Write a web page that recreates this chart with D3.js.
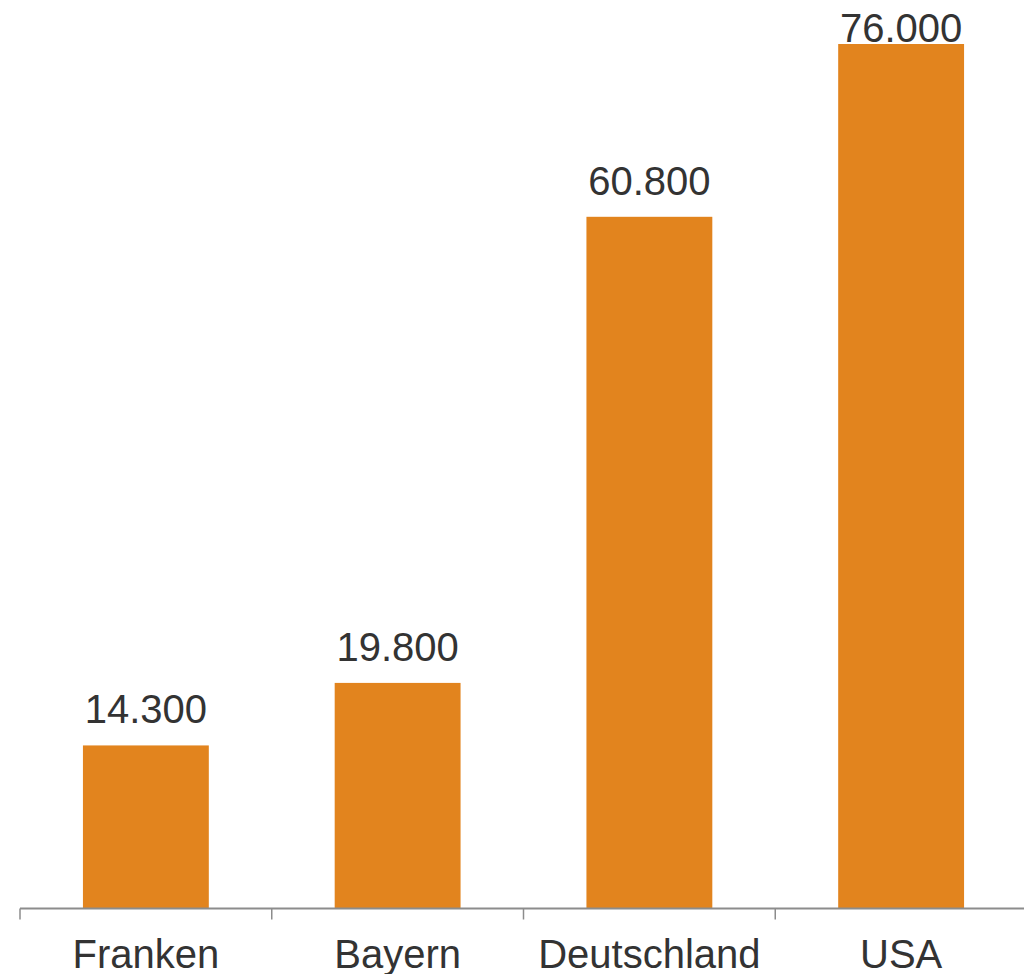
<!DOCTYPE html>
<html>
<head>
<meta charset="utf-8">
<script src="https://cdn.jsdelivr.net/npm/d3@7"></script>
<style>
  html, body { margin: 0; padding: 0; background: #fff; }
  svg { display: block; font-family: "Liberation Sans", Arial, sans-serif; }
</style>
</head>
<body>
<div id="chart"></div>
<script>
// Werte
const categories = ["Franken", "Bayern", "Deutschland", "USA"];
const values = [14300, 19800, 60800, 76000];

const width = 1024, height = 974;
const margin = { top: 44, right: -3, bottom: 66, left: 20 };

const svg = d3.select("#chart").append("svg")
    .attr("width", width)
    .attr("height", height);

const x = d3.scaleBand()
    .domain(categories)
    .range([margin.left, width - margin.right])
    .paddingInner(0.5)
    .paddingOuter(0.25);

const y = d3.scaleLinear()
    .domain([0, 76000])
    .range([height - margin.bottom, margin.top]);

const de = d3.formatLocale({ decimal: ",", thousands: ".", grouping: [3], currency: ["", " €"] });
const fmt = de.format(",.0f");

// Balken
svg.append("g")
    .selectAll("rect")
    .data(values)
    .join("rect")
    .attr("x", (d, i) => x(categories[i]))
    .attr("y", d => y(d))
    .attr("width", x.bandwidth())
    .attr("height", d => y(0) - y(d))
    .attr("fill", "#e2841e");

// Wertebeschriftung
svg.append("g")
    .selectAll("text")
    .data(values)
    .join("text")
    .attr("x", (d, i) => x(categories[i]) + x.bandwidth() / 2)
    .attr("y", d => Math.max(y(d) - 22, 42))
    .attr("text-anchor", "middle")
    .attr("font-size", "40px")
    .attr("fill", "#333")
    .text(d => fmt(d));

// x-Achse: Ticks an den Kategoriegrenzen
const axisY = y(0) + 0.5;
const step = x.step();
const boundaries = d3.range(categories.length + 1).map(i => margin.left + i * step);

const ax = svg.append("g");
ax.append("line")
    .attr("x1", margin.left).attr("x2", width)
    .attr("y1", axisY).attr("y2", axisY)
    .attr("stroke", "#8c8c8c")
    .attr("stroke-width", 2);
ax.selectAll("line.tick")
    .data(boundaries)
    .join("line")
    .attr("class", "tick")
    .attr("x1", d => d).attr("x2", d => d)
    .attr("y1", axisY).attr("y2", axisY + 11)
    .attr("stroke", "#8c8c8c")
    .attr("stroke-width", 1.5);

ax.selectAll("text")
    .data(categories)
    .join("text")
    .attr("x", d => x(d) + x.bandwidth() / 2)
    .attr("y", 968)
    .attr("text-anchor", "middle")
    .attr("font-size", "40px")
    .attr("fill", "#333")
    .text(d => d);
</script>
</body>
</html>
